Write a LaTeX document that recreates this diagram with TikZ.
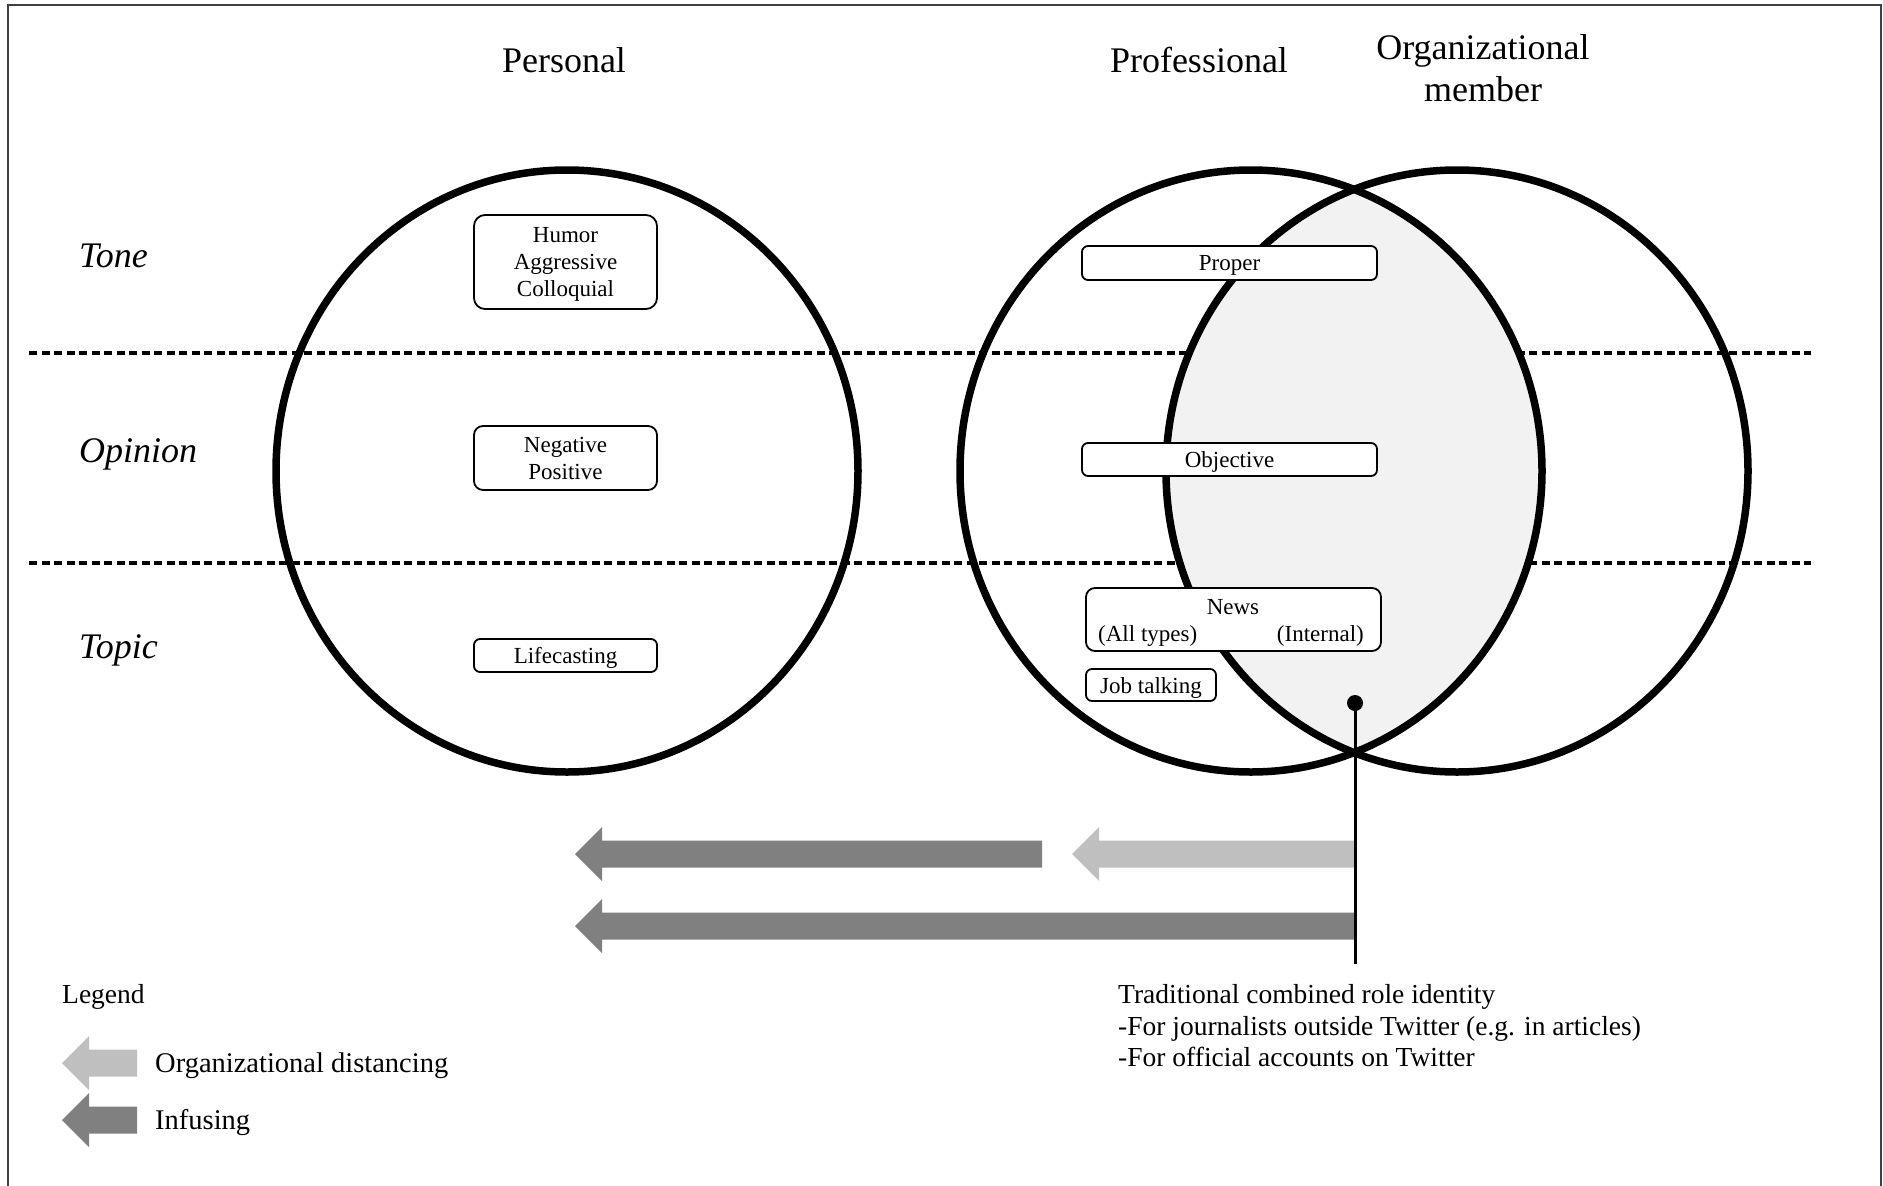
\documentclass[tikz,border=0pt]{standalone}
\usepackage{fontspec}
\setmainfont{Liberation Serif}
\newcommand\fatarrow[4]{%
  \fill[#4] (#1,#3) -- ({#1+27},{#3-27}) -- ({#1+27},{#3-13.5}) -- ({#2},{#3-13.5})
    -- ({#2},{#3+13.5}) -- ({#1+27},{#3+13.5}) -- ({#1+27},{#3+27}) -- cycle;}
\newcommand\lowtxt[1]{\raisebox{-2.5pt}[\height][\depth]{#1}}
\begin{document}
\begin{tikzpicture}[x=1pt,y=-1pt,
  ring/.style={line width=7.5pt},
  sep/.style={line width=3.2pt, dash pattern=on 8pt off 4.5pt},
  tag/.style={draw, line width=1.8pt, fill=white, rounded corners=6pt, inner sep=0pt,
    align=center, font=\fontsize{23}{27}\selectfont},
  tagtext/.style={inner sep=0pt, font=\fontsize{23}{27}\selectfont},
  title/.style={font=\fontsize{36}{42}\selectfont, align=center, inner sep=0pt},
  rowlab/.style={font=\fontsize{36}{42}\selectfont\itshape, anchor=west, inner sep=0pt},
  note/.style={font=\fontsize{27.5}{31.5}\selectfont, anchor=west, inner sep=0pt, align=left},
  legtext/.style={font=\fontsize{28.5}{33}\selectfont, anchor=west, inner sep=0pt},
  darkarrow/.style={black!50},
  lightarrow/.style={black!25},
]
\useasboundingbox (0,0) rectangle (1883,1186);
\draw[line width=2pt, black!75] (8,1195) -- (8,5) -- (1881,5) -- (1881,1195);

% titles
\node[title] (tpers) at (564,60) {Personal};
\node[title] (tprof) at (1199,60) {Professional};
\node[title] (torg) at (1483,68) {Organizational\\member};

% row labels
\node[rowlab] (ltone) at (79,256) {Tone};
\node[rowlab] (lopin) at (79,454.5) {Opinion};
\node[rowlab] (ltopic) at (79,650.5) {Topic};

% dashed separators
\draw[sep] (29,353) -- (1811,353);
\draw[sep] (29,563) -- (1811,563);

% shaded intersection
\begin{scope}
  \clip (1251,471) ellipse [x radius=291pt, y radius=301pt];
  \fill[black!5] (1457,471) ellipse [x radius=291pt, y radius=301pt];
\end{scope}

% circles
\draw[ring] (567,471) ellipse [x radius=291pt, y radius=301pt];
\draw[ring] (1251,471) ellipse [x radius=291pt, y radius=301pt];
\draw[ring] (1457,471) ellipse [x radius=291pt, y radius=301pt];

% boxes
\node[tag, minimum width=183pt, minimum height=94pt, rounded corners=11pt] (humor) at (565.5,262)
  {\lowtxt{\begin{tabular}{@{}c@{}}Humor\\Aggressive\\Colloquial\end{tabular}}};
\node[tag, minimum width=183pt, minimum height=64pt, rounded corners=9pt] (negpos) at (565.5,458)
  {\lowtxt{\begin{tabular}{@{}c@{}}Negative\\Positive\end{tabular}}};
\node[tag, minimum width=183pt, minimum height=33pt] (life) at (565.5,655.5) {\lowtxt{Lifecasting}};
\node[tag, minimum width=295pt, minimum height=34pt] (proper) at (1229.5,263) {\lowtxt{Proper}};
\node[tag, minimum width=295pt, minimum height=33pt] (objective) at (1229.5,459.5) {\lowtxt{Objective}};
\node[tag, minimum width=295pt, minimum height=63pt, rounded corners=9pt] (news) at (1233.5,619.5) {};
\node[tagtext] (newsh) at (1233,607.5) {News};
\node[tagtext, anchor=west] (newsa) at (1098,636) {(All types)};
\node[tagtext, anchor=east] (newsi) at (1364,636) {(Internal)};
\node[tag, minimum width=130pt, minimum height=32pt] (job) at (1151,685) {\lowtxt{Job talking}};

% arrows
\fatarrow{575}{1042}{854}{darkarrow}
\fatarrow{1072}{1355}{854}{lightarrow}
\fatarrow{575}{1355}{926}{darkarrow}

% pointer line
\coordinate (dot) at (1355,703);
\coordinate (lineend) at (1355,964);
\draw[line width=3pt] (dot) -- (lineend);
\fill (dot) circle (8pt);

\node[note] (trad) at (1118,1026) {Traditional combined role identity\\-For journalists outside Twitter (e.g. in articles)\\-For official accounts on Twitter};

% legend
\node[note] (leg) at (62,996.5) {Legend};
\fatarrow{62}{137}{1063}{lightarrow}
\fatarrow{62}{137}{1120}{darkarrow}
\node[legtext] (legdist) at (155,1066) {Organizational distancing};
\node[legtext] (leginf) at (155,1123) {Infusing};
\end{tikzpicture}
\end{document}
